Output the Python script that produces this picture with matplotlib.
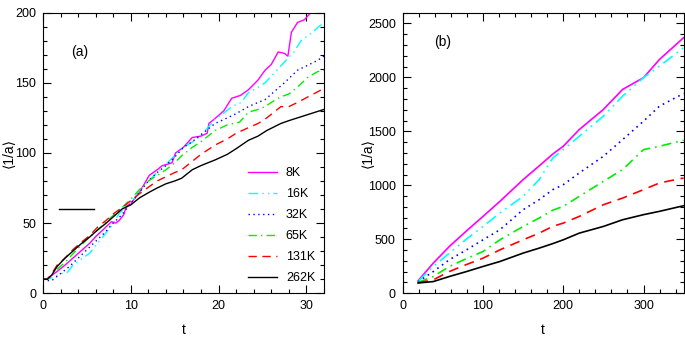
import numpy as np
import matplotlib
matplotlib.use("Agg")
import matplotlib.pyplot as plt
from matplotlib.ticker import MultipleLocator

plt.rcParams["font.family"] = ["Liberation Sans", "DejaVu Sans"]

# -----------------
# Datos panel (a)
# -----------------
etiquetas = ["8K", "16K", "32K", "65K", "131K", "262K"]

t_8k = [0, 0.5, 1.5, 2.5, 3.4, 4.3, 5.3, 6.1, 6.8, 7.8, 8.3, 8.7, 9.2, 9.5, 10, 11, 12.1, 13,
        13.6, 14.2, 14.7, 15.1, 16, 17, 18, 18.7, 18.9, 19.5, 20.6, 21.5, 22.5, 23.4, 24.5,
        25.3, 26, 26.8, 27.5, 27.9, 28.3, 29, 29.8, 30.5, 31]
v_8k = [10, 10.5, 15, 20, 25, 30, 35.5, 41, 45, 51, 50, 52, 56, 62, 64, 72, 84, 88, 91, 92, 93,
        100, 104, 111, 112, 114, 121, 124, 130, 139, 141, 145, 152, 159, 163, 172, 171, 169,
        186, 193, 195, 200, 207]

t_16k = [0, 0.5, 1, 2, 2.8, 3.4, 4.3, 5.3, 6, 6.8, 7.8, 8.7, 10, 11, 12, 13, 14, 15, 15.8, 16.5,
         17.4, 18.5, 19.6, 20.5, 21.5, 22.6, 23.4, 24.3, 25.3, 26.5, 27.9, 28.6, 29.4, 30.5,
         31.6, 32]
v_16k = [10, 10, 11, 14, 15, 20, 24, 28.5, 34, 40, 48, 57, 64, 73, 80, 86, 92, 98, 103, 106,
         109, 116, 124, 128, 133, 136, 143, 146, 150, 158, 167.5, 172, 180, 185, 191, 192]

t_32k = [0, 0.5, 1, 2, 3, 4, 5, 6, 7, 8, 9, 10, 11, 12, 13, 14, 15, 16, 17, 18, 19.6, 21, 22,
         23.4, 24.5, 25.3, 26.4, 27.5, 29, 30, 31.3, 32]
v_32k = [10, 9, 9, 14, 19, 25, 31, 37, 43, 50, 56, 64, 72, 80, 86, 91, 97, 104, 108, 113, 121,
         125, 128, 133, 136, 138, 144, 150, 159, 162, 166, 169]

t_65k = [0, 0.5, 1, 1.6, 2.5, 3.4, 4.3, 5.3, 6.2, 7.2, 8.1, 9, 10, 11, 12, 13, 14, 15, 15.8, 17,
         18, 19.6, 21, 22.4, 23.4, 24.5, 25.3, 26.5, 27.1, 28, 29, 30.2, 31.3, 32]
v_65k = [10, 10, 13, 17, 22, 28, 34, 40, 45, 51, 56, 61, 67, 74, 80, 84, 88, 93, 98, 104, 108,
         116, 120, 122, 129, 131, 133, 138, 140, 142, 147, 154, 158, 159]

t_131k = [0, 0.5, 1, 1.6, 2.5, 3.4, 4.3, 5.3, 6.2, 7.2, 8.1, 9, 10, 11, 12.1, 13, 14, 15, 15.8,
          17, 18, 19.6, 21, 22, 23.4, 24.5, 25.5, 27.1, 28, 29, 30.5, 31, 32]
v_131k = [10, 10, 14, 20, 25, 31, 36, 41, 47, 52, 57, 61, 66, 71, 76, 80, 83, 86, 88, 94, 99,
          105.6, 110, 114, 118, 121, 125, 133, 133, 136, 141, 142.6, 146]

t_262k = [0, 0.5, 1, 1.6, 2.5, 3.4, 4.3, 5.3, 6.2, 7.2, 8.1, 9, 10, 11, 12.1, 13, 14, 15, 15.8,
          17, 18, 19.6, 21, 22, 23.4, 24.5, 25.5, 27.1, 28, 29, 30, 31, 32]
v_262k = [10, 10, 13, 19, 25, 30, 35, 40, 45, 50, 55, 60, 63, 68, 72, 75, 78, 80, 82, 88, 91,
          95, 99, 103, 109, 112, 116, 121, 123, 125, 127, 129, 131]

# -----------------
# Datos panel (b)
# -----------------
t_b = [19, 38, 58, 79, 100, 121, 150, 170, 187, 200, 220, 250, 274, 300, 320, 350]
b_8k = [115, 279, 433, 575, 712, 851, 1053, 1180, 1290, 1362, 1517, 1703, 1889, 1997, 2167, 2368]
b_16k = [110, 248, 372, 500, 619, 743, 898, 1053, 1254, 1331, 1455, 1641, 1827, 1997, 2105, 2276]
b_32k = [105, 201, 310, 400, 495, 588, 774, 867, 960, 1006, 1115, 1269, 1424, 1594, 1734, 1851]
b_65k = [100, 155, 248, 320, 387, 495, 619, 697, 770, 805, 898, 1037, 1146, 1331, 1362, 1418]
b_131k = [98, 124, 201, 265, 325, 402, 495, 557, 620, 650, 712, 820, 882, 960, 1022, 1068]
b_262k = [95, 108, 155, 200, 248, 294, 372, 418, 460, 495, 557, 619, 681, 728, 759, 811]

# -----------
# Estilos
# -----------
colores = ["#ff00ff", "#00ffff", "#0000ff", "#00ee00", "#ff0000", "black"]
estilos = ["-", (0, (7, 3, 1, 3, 1, 3)), (0, (1, 2.5)), (0, (6, 3, 1, 3)), (0, (6, 4)), "-"]

series_a = [(t_8k, v_8k), (t_16k, v_16k), (t_32k, v_32k), (t_65k, v_65k),
            (t_131k, v_131k), (t_262k, v_262k)]
series_b = [b_8k, b_16k, b_32k, b_65k, b_131k, b_262k]

fig = plt.figure(figsize=(6.85, 3.39), dpi=100)
ax1 = fig.add_axes([0.0628, 0.135, 0.410, 0.8277])
ax2 = fig.add_axes([0.588, 0.135, 0.410, 0.8277])

for (t, v), c, ls, lab in zip(series_a, colores, estilos, etiquetas):
    ax1.plot(t, v, color=c, linestyle=ls, linewidth=1.0, label=lab)

for v, c, ls in zip(series_b, colores, estilos):
    ax2.plot(t_b, v, color=c, linestyle=ls, linewidth=1.2)

# linea horizontal de referencia
ax1.plot([1.8, 5.8], [60, 60], color="black", linewidth=1.0)

ax1.set_xlim(0, 32)
ax1.set_ylim(0, 200)
ax2.set_xlim(0, 350)
ax2.set_ylim(0, 2600)

ax1.xaxis.set_major_locator(MultipleLocator(10))
ax1.xaxis.set_minor_locator(MultipleLocator(2))
ax1.yaxis.set_major_locator(MultipleLocator(50))
ax1.yaxis.set_minor_locator(MultipleLocator(10))
ax2.xaxis.set_major_locator(MultipleLocator(100))
ax2.xaxis.set_minor_locator(MultipleLocator(20))
ax2.yaxis.set_major_locator(MultipleLocator(500))
ax2.yaxis.set_minor_locator(MultipleLocator(100))
ax2.set_yticks([0, 500, 1000, 1500, 2000, 2500])

for ax in (ax1, ax2):
    ax.tick_params(which="both", direction="in", top=True, right=True, labelsize=9, width=0.8)
    ax.tick_params(which="major", length=6, pad=5)
    ax.tick_params(which="minor", length=3)
    for s in ax.spines.values():
        s.set_linewidth(0.8)
    ax.set_xlabel("t", fontsize=10, labelpad=8)
    ax.set_ylabel("\u27e81/a\u27e9", fontsize=10)

ax1.yaxis.set_label_coords(-0.098, 0.5)
ax2.yaxis.set_label_coords(-0.098, 0.5)

ax1.text(4.2, 172, "(a)", fontsize=10, ha="center", va="center")
ax2.text(50, 2330, "(b)", fontsize=10, ha="center", va="center")

ax1.legend(loc="lower right", bbox_to_anchor=(1.0, 0.0), frameon=False, fontsize=9,
           handlelength=2.3, handletextpad=0.7, labelspacing=0.72, borderaxespad=0.3)

fig.savefig("out.png", dpi=100)
